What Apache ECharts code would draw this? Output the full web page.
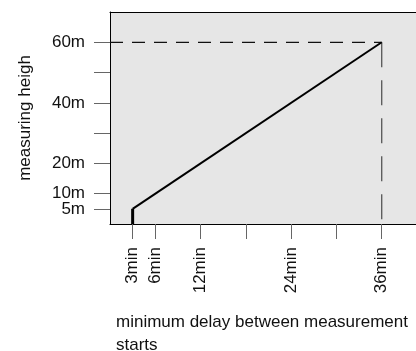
<!DOCTYPE html>
<html>
<head>
<meta charset="utf-8">
<script src="https://cdn.jsdelivr.net/npm/echarts@6/dist/echarts.min.js"></script>
<style>
  html, body { margin: 0; padding: 0; background: #fff; }
  #chart { width: 416px; height: 351px; }
</style>
</head>
<body>
<div id="chart"></div>
<script>
// delay (min) -> height (m)
var xTicks = [3, 6, 12, 18, 24, 30, 36]
var xLabels = [3, 6, 12, 24, 36]
var yTicks = [10, 20, 30, 40, 50, 60]
var yLabels = [10, 20, 40, 60]
var yLowTicks = [5]
var riseLine = [[3, 0], [3, 5]]
var mainLine = [[3, 5], [36, 60]]
var limitH = [[0, 60], [36, 60]]
var limitV = [[36, 60], [36, 0]]

var font = 'Liberation Sans, Arial, sans-serif'
var chart = echarts.init(document.getElementById('chart'))

function yAxisOf(ticks, labels, name, showLine) {
  return {
    type: 'value',
    position: 'left',
    offset: 0,
    min: 0,
    max: 70,
    name: name,
    nameLocation: 'middle',
    nameGap: 76,
    nameTextStyle: { fontFamily: font, fontSize: 17, color: '#111' },
    splitLine: { show: false },
    axisLine: { show: showLine, lineStyle: { color: '#000', width: 1 } },
    axisTick: {
      show: true,
      length: 16,
      customValues: ticks,
      lineStyle: { color: '#666', width: 1 }
    },
    axisLabel: {
      customValues: labels,
      hideOverlap: false,
      showMinLabel: true,
      showMaxLabel: true,
      margin: 25,
      formatter: '{value}m',
      fontFamily: font,
      fontSize: 17,
      color: '#111'
    }
  }
}

chart.setOption({
  animation: false,
  title: {
    text: 'minimum delay between measurement\nstarts',
    left: 111,
    top: 306,
    textStyle: {
      fontFamily: font,
      fontSize: 17,
      fontWeight: 'normal',
      color: '#111',
      lineHeight: 23
    }
  },
  grid: {
    left: 110,
    top: 12,
    right: -11,
    bottom: 127,
    outerBoundsMode: 'none',
    containLabel: false,
    show: true,
    backgroundColor: '#e6e6e6',
    borderWidth: 0
  },
  xAxis: [
    {
      type: 'value',
      min: 0,
      max: 42,
      splitLine: { show: false },
      axisLine: { show: true, onZero: false, lineStyle: { color: '#000', width: 1 } },
      axisTick: {
        show: true,
        length: 15,
        customValues: xTicks,
        lineStyle: { color: '#666', width: 1 }
      },
      axisLabel: {
        customValues: xLabels,
        hideOverlap: false,
        showMinLabel: true,
        rotate: 90,
        margin: 23,
        formatter: '{value}min',
        fontFamily: font,
        fontSize: 17,
        color: '#111'
      }
    },
    {
      // top frame edge
      type: 'value',
      position: 'top',
      min: 0,
      max: 42,
      splitLine: { show: false },
      axisLine: { show: true, onZero: false, lineStyle: { color: '#000', width: 1 } },
      axisTick: { show: false },
      axisLabel: { show: false }
    }
  ],
  yAxis: [
    yAxisOf(yTicks, yLabels, 'measuring heigh', true),
    yAxisOf(yLowTicks, yLowTicks, '', false)
  ],
  series: [
    {
      type: 'line',
      data: limitH,
      symbol: 'none',
      lineStyle: { color: '#111', width: 1.3, type: [13, 9] }
    },
    {
      type: 'line',
      data: limitV,
      symbol: 'none',
      lineStyle: { color: '#555', width: 1.3, type: [25, 13] }
    },
    {
      type: 'line',
      data: mainLine,
      symbol: 'none',
      lineStyle: { color: '#000', width: 2 }
    },
    {
      type: 'line',
      data: riseLine,
      symbol: 'none',
      lineStyle: { color: '#000', width: 3 }
    }
  ]
})
</script>
</body>
</html>
